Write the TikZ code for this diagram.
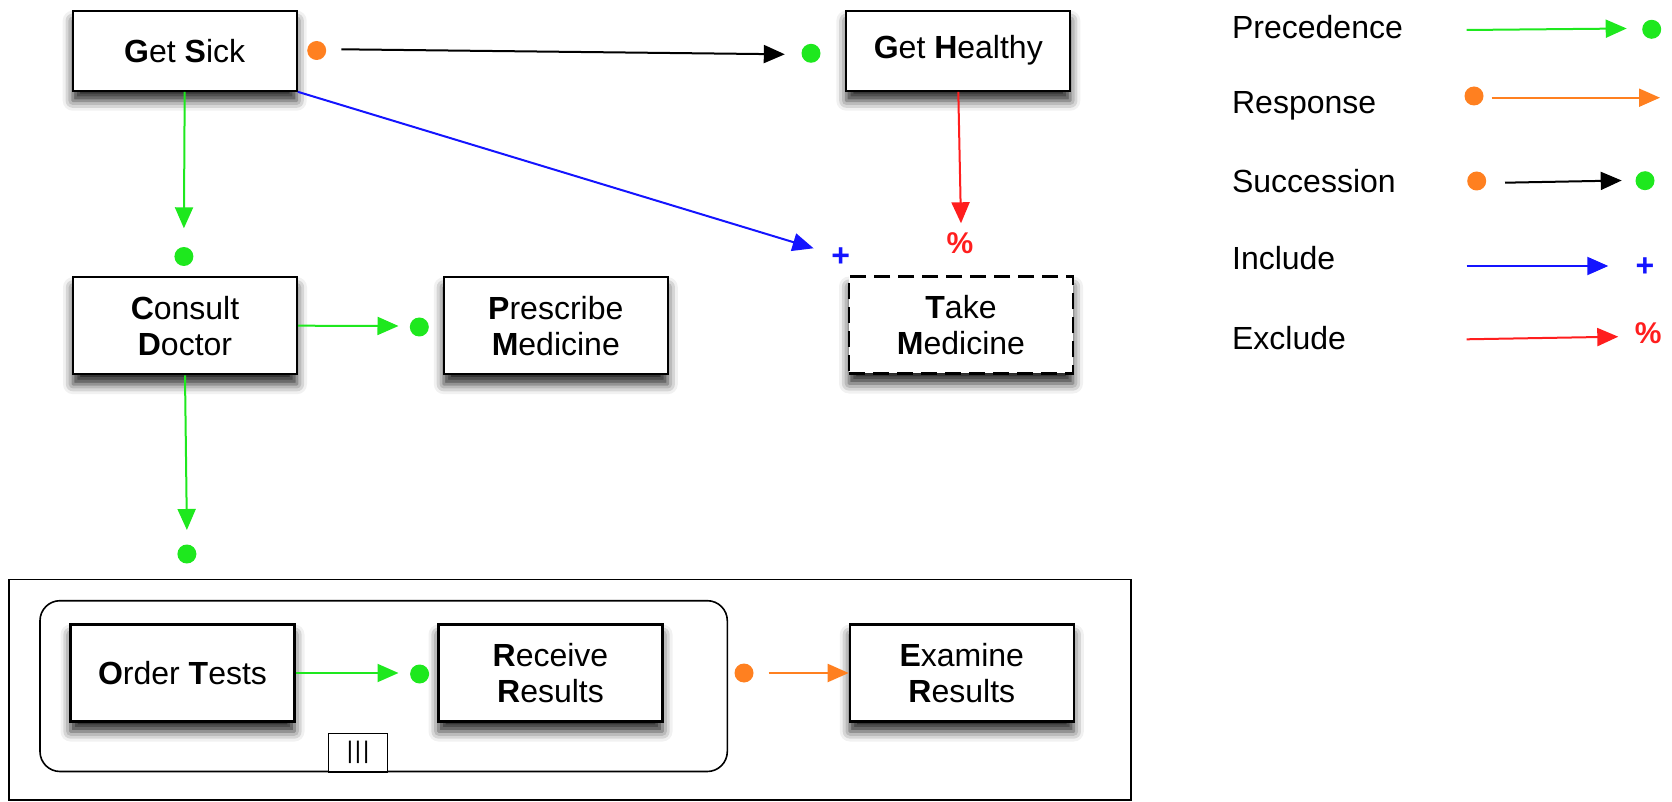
\documentclass[tikz,border=0pt]{standalone}
\usepackage{fontspec}
\setmainfont{Liberation Sans}
\usetikzlibrary{arrows.meta,shadows.blur}
\definecolor{cgreen}{RGB}{30,232,30}
\definecolor{corange}{RGB}{255,128,32}
\definecolor{cblue}{RGB}{20,20,255}
\definecolor{cred}{RGB}{255,30,30}
\begin{document}
\begin{tikzpicture}[x=0.5pt,y=-0.5pt,
  every node/.style={font=\fontsize{16}{18}\selectfont},
  box/.style={draw, line width=1.1pt, fill=white, minimum width=112pt, inner sep=0pt, align=center,
    blur shadow={shadow xshift=0pt, shadow yshift=-5pt, shadow blur radius=5pt, shadow opacity=85}},
  onebox/.style={box, minimum height=40pt},
  twobox/.style={box, minimum height=48.5pt},
  dashbox/.style={twobox, dash pattern=on 8pt off 4pt},
  tip/.style={-{Triangle[length=10.5pt,width=9pt]}},
  prec/.style={tip, draw=cgreen, line width=1pt},
  resp/.style={tip, draw=corange, line width=1pt},
  succ/.style={tip, draw=black, line width=1pt},
  incl/.style={tip, draw=cblue, line width=1pt},
  excl/.style={tip, draw=cred, line width=1pt},
  gdot/.style={circle, fill=cgreen, inner sep=0pt, minimum size=9.5pt},
  odot/.style={circle, fill=corange, inner sep=0pt, minimum size=9.5pt},
  plusm/.style={text=cblue, inner sep=0pt, font=\fontsize{16}{16}\selectfont\bfseries},
  pctm/.style={text=cred, inner sep=0pt, font=\fontsize{15}{15}\selectfont\bfseries},
  legtext/.style={anchor=base west, inner sep=0pt},
  frame/.style={draw, line width=0.8pt, inner sep=0pt}
]
\useasboundingbox (0,0) rectangle (1672,802);

% containers
\node[frame, minimum width=561.15pt, minimum height=110.35pt] (outer) at (569.85,689.65) {};
\node[frame, rounded corners=10pt, minimum width=343.65pt, minimum height=85.4pt] (group) at (383.65,686.1) {};
\node[frame, fill=white, minimum width=29.5pt, minimum height=19.2pt, font=\fontsize{12}{12}\selectfont] (par) at (358.1,752.5) {|\kern1pt|\kern1pt|};

% activities
\node[onebox] (getsick) at (184.7,50.7) {\textbf{G}et \textbf{S}ick};
\node[onebox] (gethealthy) at (958.3,50.7) {\textbf{G}et \textbf{H}ealthy};
\node[twobox] (consult) at (185,325.7) {\textbf{C}onsult\\\textbf{D}octor};
\node[twobox] (prescribe) at (555.8,325.7) {\textbf{P}rescribe\\\textbf{M}edicine};
\node[dashbox] (takemed) at (961,325) {\textbf{T}ake\\\textbf{M}edicine};
\node[twobox] (order) at (182.5,673) {\textbf{O}rder \textbf{T}ests};
\node[twobox] (receive) at (550.5,673) {\textbf{R}eceive\\\textbf{R}esults};
\node[twobox] (examine) at (961.8,673) {\textbf{E}xamine\\\textbf{R}esults};

% markers
\node[odot] (o1) at (316.7,50.5) {};
\node[gdot] (g1) at (811,53.3) {};
\node[gdot] (g2) at (183.9,256.5) {};
\node[plusm] (p1) at (840.8,256.7) {+};
\node[pctm] (x1) at (960,243.3) {\%};
\node[gdot] (g3) at (419.3,327) {};
\node[gdot] (g4) at (186.9,554) {};
\node[gdot] (g5) at (419.6,674) {};
\node[odot] (o2) at (744,673) {};

% connectors
\coordinate (s1) at (341.3,49.3); \coordinate (t1) at (784.8,54.3);
\draw[succ] (s1) -- (t1);
\coordinate (t2) at (183.9,228.3);
\draw[prec] (getsick.south) -- (t2);
\coordinate (t3) at (813.6,248.3);
\draw[incl] (getsick.south east) -- (t3);
\coordinate (t4) at (961,223.3);
\draw[excl] (gethealthy.south) -- (t4);
\coordinate (t5) at (398.5,326);
\draw[prec] (consult.east) -- (t5);
\coordinate (t6) at (186.9,530);
\draw[prec] (consult.south) -- (t6);
\coordinate (t7) at (398.5,673);
\draw[prec] (order.east) -- (t7);
\coordinate (s8) at (768.7,673);
\draw[resp] (s8) -- (examine.west);

% legend
\node[legtext] (lprec) at (1231.7,38.3) {Precedence};
\node[legtext] (lresp) at (1231.7,113.3) {Response};
\node[legtext] (lsucc) at (1231.7,192.7) {Succession};
\node[legtext] (lincl) at (1231.7,269.3) {Include};
\node[legtext] (lexcl) at (1231.7,349.3) {Exclude};

\coordinate (la1) at (1466.7,30); \coordinate (lb1) at (1626.7,28.5);
\draw[prec] (la1) -- (lb1);
\node[gdot] (lg1) at (1651.7,29.3) {};

\node[odot] (lo2) at (1474,96) {};
\coordinate (la2) at (1491.7,97.7); \coordinate (lb2) at (1660,97.7);
\draw[resp] (la2) -- (lb2);

\node[odot] (lo3) at (1476.7,181) {};
\coordinate (la3) at (1505,182.7); \coordinate (lb3) at (1621.7,180.5);
\draw[succ] (la3) -- (lb3);
\node[gdot] (lg3) at (1645,180.7) {};

\coordinate (la4) at (1466.7,266); \coordinate (lb4) at (1608.3,266);
\draw[incl] (la4) -- (lb4);
\node[plusm] (lp4) at (1645,266.7) {+};

\coordinate (la5) at (1466.7,339.3); \coordinate (lb5) at (1618.3,336.7);
\draw[excl] (la5) -- (lb5);
\node[pctm] (lx5) at (1648.3,333.3) {\%};
\end{tikzpicture}
\end{document}
